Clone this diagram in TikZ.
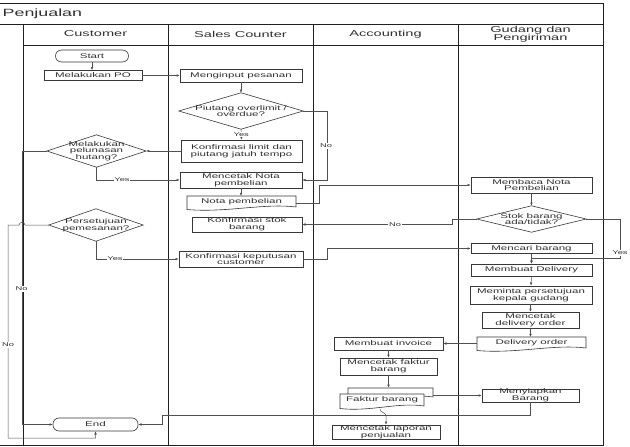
\documentclass[tikz,border=0pt]{standalone}
\usepackage{fontspec}
\setmainfont{Liberation Sans}[FakeStretch=1.7]
\usetikzlibrary{calc,arrows.meta}
\newcommand{\myNF}{\fontsize{6.8}{6.6}\selectfont}
\newcommand{\myHF}{\fontsize{8.6}{8.2}\selectfont}
\newcommand{\myTF}{\fontsize{10.5}{12}\selectfont}
\newcommand{\myLF}{\fontsize{5.5}{6}\selectfont}
\definecolor{lanec}{HTML}{202020}
\definecolor{linec}{HTML}{505050}
\definecolor{boxc}{HTML}{383838}
\definecolor{txtc}{HTML}{303030}
% document outline: x0 y0 x1 y1
\newcommand{\docpath}[4]{%
  \draw[shapeline] (#1,#2) -- (#3,#2) -- (#3,#4-1)
    .. controls ({#3-0.3*(#3-#1)},#4-5) and ({#1+0.35*(#3-#1)},#4+5) .. (#1,#4+1.5) -- cycle;}
\newcommand{\diampath}[1]{%
  \draw[shapeline,fill=none] (#1.north) -- (#1.east) -- (#1.south) -- (#1.west) -- cycle;}
\begin{document}
\begin{tikzpicture}[x=1pt,y=-1pt,
  wh/.style 2 args={minimum width=#1pt,minimum height=#2pt},
  proc/.style={rectangle,draw=boxc,line width=0.6pt,fill=white,align=center,font=\myNF,text=txtc,inner sep=0pt},
  term/.style={proc,rounded corners=6pt},
  free/.style={rectangle,draw=none,align=center,font=\myNF,text=txtc,inner sep=0pt},
  shapeline/.style={draw=boxc,line width=0.6pt,fill=white},
  conn/.style={draw=linec,line width=0.5pt,-{Latex[length=3.2pt,width=2.6pt]}},
  lbl/.style={font=\myLF,text=txtc,fill=white,inner sep=0.6pt},
  lane/.style={draw=lanec,line width=0.7pt},
  hdr/.style={font=\myHF,text=txtc,align=center,inner sep=0pt}]
\useasboundingbox (0,0) rectangle (630,447);
\fill[white] (0,0) rectangle (630,447);

% pool frame
\draw[lane] (0,3) -- (603,3) -- (603,445.5) -- (0,445.5);
\draw[lane] (0,24) -- (603,24);
\draw[lane] (23,45) -- (603,45);
\foreach \xx in {23,168,313,458} {\draw[lane] (\xx,24) -- (\xx,445.5);}
\node[anchor=west,font=\myTF,text=txtc,inner sep=0pt] (title) at (2.5,13.5) {Penjualan};
\node[hdr] (hcust) at (95.5,34) {Customer};
\node[hdr] (hsales) at (240.5,34) {Sales Counter};
\node[hdr] (hacc) at (385.5,34) {Accounting};
\node[hdr] (hgud) at (530.5,34.5) {Gudang dan\\Pengiriman};

% Customer lane
\node[term,wh={73}{12}] (start) at (92,56) {Start};
\node[proc,wh={98}{10}] (po) at (93,75.5) {Melakukan PO};
\node[free,wh={99}{32}] (pelunasan) at (96.5,151) {Melakukan\\pelunasan\\hutang?};
\diampath{pelunasan}
\node[free,wh={94}{32}] (persetujuan) at (96,225) {Persetujuan\\pemesanan?};
\diampath{persetujuan}
\node[term,wh={85}{13}] (end) at (95.5,424.5) {End};

% Sales counter lane
\node[proc,wh={122}{13}] (input) at (241,75.5) {Menginput pesanan};
\node[free,wh={124}{36}] (piutang) at (241,111) {Piutang overlimit /\\overdue?};
\diampath{piutang}
\node[proc,wh={121}{22}] (konflimit) at (241.5,151) {Konfirmasi limit dan\\piutang jatuh tempo};
\node[proc,wh={122}{16}] (nota) at (241,180) {Mencetak Nota\\pembelian};
\docpath{187}{196}{296}{208}
\node[free,wh={109}{10}] (notadoc) at (241.5,202) {Nota pembelian};
\node[proc,wh={110}{15}] (konfstok) at (247,224.5) {Konfirmasi stok\\barang};
\node[proc,wh={124}{16}] (konfkep) at (241,259) {Konfirmasi keputusan\\customer};

% Accounting lane
\node[proc,wh={109}{13}] (invoice) at (388.5,343.5) {Membuat invoice};
\node[proc,wh={97}{17}] (cetakfaktur) at (388.5,366.5) {Mencetak faktur\\barang};
\node[free,wh={93}{22}] (faktur) at (386.5,399) {};
\docpath{348}{388}{433}{398}
\docpath{340}{394}{424}{407}
\node[free] (fakturtxt) at (382,400) {Faktur barang};
\node[proc,wh={108}{14}] (laporan) at (386,432) {Mencetak laporan\\penjualan};

% Gudang lane
\node[proc,wh={121}{16}] (membaca) at (531.5,185) {Membaca Nota\\Pembelian};
\node[free,wh={109}{26}] (stok) at (531.5,219) {Stok barang\\ada/tidak?};
\diampath{stok}
\node[proc,wh={121}{10}] (mencari) at (531.5,248.5) {Mencari barang};
\node[proc,wh={121}{12}] (delivery) at (531.5,270) {Membuat Delivery};
\node[proc,wh={122}{18}] (meminta) at (531,295) {Meminta persetujuan\\kepala gudang};
\node[proc,wh={97}{16}] (cetakdo) at (530.5,320) {Mencetak\\delivery order};
\docpath{477}{337}{586}{349}
\node[free,wh={109}{10}] (dodoc) at (531.5,342.5) {Delivery order};
\node[proc,wh={97}{13}] (siapkan) at (530.5,395.5) {Menyiapkan\\Barang};

% connectors
\draw[conn] (start.south) -- (start.south |- po.north);
\draw[conn] (po.east) -- (input.west);
\draw[conn] (input.south) -- (piutang.north);
\draw[conn] (piutang.south) -- (konflimit.north) node[lbl,midway] (lyes1) {Yes};
\draw[conn] (piutang.east) -- (327,111) |- (nota.east);
\node[lbl] (lno1) at (326,146) {No};
\draw[conn] (konflimit.west) -- (pelunasan.east);
\draw[conn] (pelunasan.south) |- (nota.west);
\node[lbl] (lyes2) at (122,180) {Yes};
\draw[conn] (pelunasan.west) -- (22,151) |- (end.west);
\node[lbl] (lno2) at (21.5,289) {No};
\draw[conn] (persetujuan.west) -- (25,225) .. controls (25,221.5) and (19,221.5) .. (19,225)
  -- (8,225) -- (8,438) -| (end.south);
\node[lbl] (lno3) at (8,345) {No};
\draw[conn] (persetujuan.south) |- (konfkep.west);
\node[lbl] (lyes3) at (115,259) {Yes};
\draw[conn] (nota.south) -- (nota.south |- 0,196);
\draw[conn] (296,203) -| (319,185) -- (membaca.west);
\draw[conn] (membaca.south) -- (stok.north);
\draw[conn] (stok.west) -- (452,219) -- (452,224.5) -- (konfstok.east);
\node[lbl] (lno4) at (395,224.5) {No};
\draw[conn] (stok.east) -- (620,219) |- (531.5,258) -- (delivery.north);
\node[lbl] (lyes4) at (620,253) {Yes};
\draw[conn] (konfkep.east) -- (327,259) |- (mencari.west);
\draw[conn] (mencari.south) -- (delivery.north);
\draw[conn] (delivery.south) -- (meminta.north);
\draw[conn] (meminta.south -| cetakdo.north) -- (cetakdo.north);
\draw[conn] (cetakdo.south) -- (cetakdo.south |- 0,337);
\draw[conn] (477,343.5) -- (invoice.east);
\draw[conn] (invoice.south) -- (cetakfaktur.north);
\draw[conn] (cetakfaktur.south) -- (cetakfaktur.south |- faktur.north);
\draw[conn] (faktur.east |- siapkan.west) -- (siapkan.west);
\draw[conn] (380,409) .. controls (380,413) and (386,412) .. (386,416) -- (laporan.north);
\draw[conn] (siapkan.south) -- (530.5,415) -- (162,415) |- (end.east);
\end{tikzpicture}
\end{document}
